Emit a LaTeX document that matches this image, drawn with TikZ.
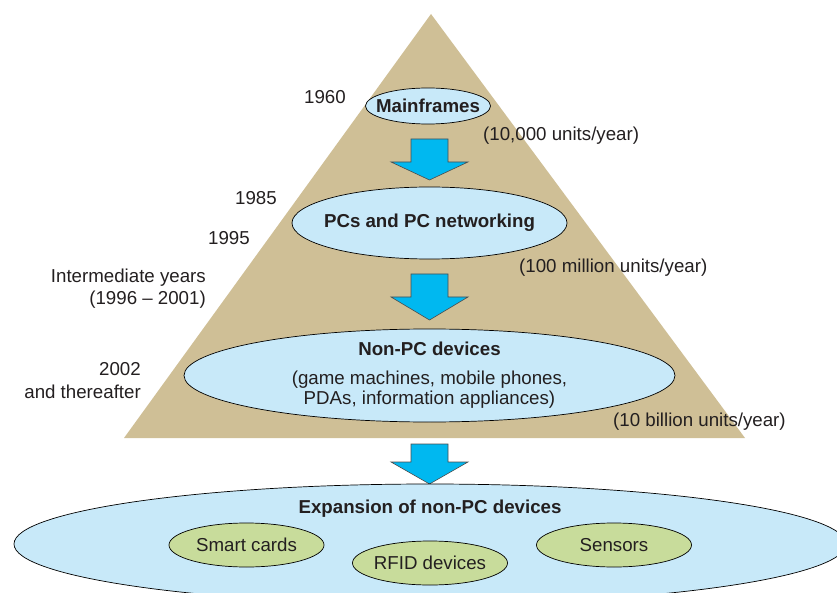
\documentclass[tikz,border=0pt]{standalone}
\usepackage{fontspec}
\setmainfont{Liberation Sans}
\usetikzlibrary{shapes.geometric}
\definecolor{pyramid}{RGB}{207,191,150}
\definecolor{paleblue}{RGB}{200,233,249}
\definecolor{flowcyan}{RGB}{0,184,240}
\definecolor{leafgreen}{RGB}{200,220,155}
\definecolor{ink}{RGB}{35,31,32}
% block arrow pointing down: centre x, top y, head y, tip y
\newcommand\flowarrow[4]{%
  \draw[flowshape] (#1-18.5,#2) -- (#1+18.5,#2) -- (#1+18.5,#3) -- (#1+38.5,#3)
    -- (#1,#4) -- (#1-38.5,#3) -- (#1-18.5,#3) -- cycle;}
\begin{document}
\begin{tikzpicture}[x=1pt,y=-1pt,
  every node/.style={text=ink,font=\fontsize{18.7}{21}\selectfont},
  every label/.style={inner sep=0pt,text=ink},
  bluestage/.style={ellipse,draw=black,line width=0.7pt,fill=paleblue,inner sep=0pt},
  greenstage/.style={ellipse,draw=black,line width=0.7pt,fill=leafgreen,inner sep=0pt,
    minimum width=155,minimum height=44},
  flowshape/.style={draw=black!70,line width=0.6pt,fill=flowcyan,line join=miter},
  yearlabel/.style={anchor=base east,inner sep=0pt,align=right},
  ratelabel/.style={anchor=base west,inner sep=0pt}]
\useasboundingbox (0,0) rectangle (837,593);

% pyramid
\fill[pyramid] (431,14) -- (745,438) -- (124,438) -- cycle;

% stages inside the pyramid
\node[bluestage,minimum width=125,minimum height=36,
  label={center:\bfseries Mainframes}] (mf) at (428,106) {};
\node[bluestage,minimum width=275,minimum height=72,
  label={center:\bfseries PCs and PC networking}] (pc) at (429.5,223) {};
\node[bluestage,minimum width=491,minimum height=93] (npc) at (429.5,375.5) {};
\node[inner sep=0pt,anchor=base] (npct) at (429.5,355.5) {\bfseries Non-PC devices};
\node[inner sep=0pt,anchor=base] (npcl1) at (429.5,384.5) {(game machines, mobile phones,};
\node[inner sep=0pt,anchor=base] (npcl2) at (429.5,404.5) {PDAs, information appliances)};

% flow arrows between stages
\flowarrow{429.5}{139}{162}{180}
\flowarrow{429.5}{274}{297}{320}
\flowarrow{429.5}{444}{462}{484}

% expansion stage
\node[bluestage,minimum width=832,minimum height=120] (exp) at (430,544) {};
\node[inner sep=0pt,anchor=base] (expt) at (430,513.5) {\bfseries Expansion of non-PC devices};
\node[greenstage,label={center:Smart cards}] (smart) at (246.5,545) {};
\node[greenstage,label={center:RFID devices}] (rfid) at (430,563) {};
\node[greenstage,label={center:Sensors}] (sens) at (614,545) {};

% years
\node[yearlabel] (y60) at (346,104) {1960};
\node[yearlabel] (y85) at (277,204.5) {1985};
\node[yearlabel] (y95) at (250,245) {1995};
\node[yearlabel] (yint) at (206,282.5) {Intermediate years};
\node[yearlabel] (yint2) at (206,305) {(1996 -- 2001)};
\node[yearlabel] (y02) at (141,375) {2002};
\node[yearlabel] (y02b) at (141,398) {and thereafter};

% production volumes
\node[ratelabel] (r1) at (483,141) {(10,000 units/year)};
\node[ratelabel] (r2) at (519,273) {(100 million units/year)};
\node[ratelabel] (r3) at (613,426) {(10 billion units/year)};
\end{tikzpicture}
\end{document}
